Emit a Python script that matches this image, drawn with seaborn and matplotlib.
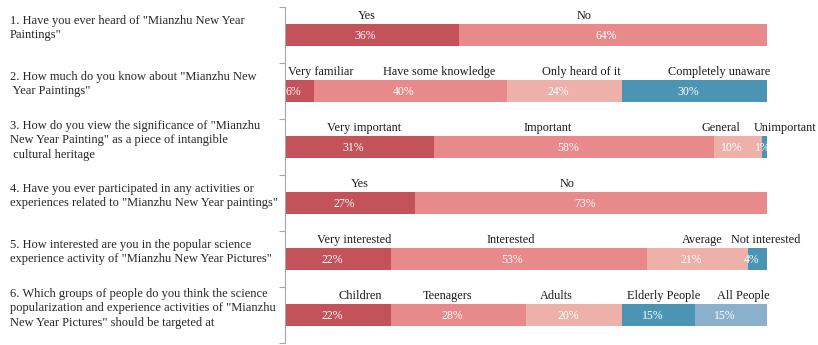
import matplotlib
matplotlib.use("Agg")
import matplotlib.pyplot as plt
import matplotlib.transforms as mtransforms
import numpy as np
import pandas as pd
import seaborn as sns

questions = [
    '1. Have you ever heard of "Mianzhu New Year\nPaintings"',
    '2. How much do you know about "Mianzhu New\n Year Paintings"',
    '3. How do you view the significance of "Mianzhu\nNew Year Painting" as a piece of intangible\n cultural heritage',
    '4. Have you ever participated in any activities or\nexperiences related to "Mianzhu New Year paintings"',
    '5. How interested are you in the popular science\nexperience activity of "Mianzhu New Year Pictures"',
    '6. Which groups of people do you think the science\npopularization and experience activities of "Mianzhu\nNew Year Pictures" should be targeted at',
]
options = [
    ["Yes", "No"],
    ["Very familiar", "Have some knowledge", "Only heard of it", "Completely unaware"],
    ["Very important", "Important", "General", "Unimportant"],
    ["Yes", "No"],
    ["Very interested", "Interested", "Average", "Not interested"],
    ["Children", "Teenagers", "Adults", "Elderly People", "All People"],
]
percents = [
    [36, 64],
    [6, 40, 24, 30],
    [31, 58, 10, 1],
    [27, 73],
    [22, 53, 21, 4],
    [22, 28, 20, 15, 15],
]

# colour by position of the answer within the question
seg_colors = ["#C4525A", "#E88A8C", "#EDB1AA", "#4B94B3", "#8BB0CB"]
# horizontal shifts (in %) of the option labels, as placed in the original
label_nudge = {
    (0, 0): -1, (0, 1): -6,
    (1, 0): 4.5, (1, 1): 6, (1, 2): 3.5, (1, 3): 5,
    (2, 0): 1, (2, 1): -5.5, (2, 2): -3.5, (2, 3): 4.3,
    (3, 0): 2, (3, 1): -5,
    (4, 0): 3.3, (4, 1): -1.7, (4, 2): 1.1, (4, 3): 1.8,
    (5, 0): 4.7, (5, 1): -2.3, (5, 2): -3.7, (5, 3): 1, (5, 4): 2.5,
}

rows = []
for qi, (opts, vals) in enumerate(zip(options, percents)):
    cum = 0
    for k, (o, v) in enumerate(zip(opts, vals)):
        rows.append({"q": qi, "seg": k, "option": o, "pct": v,
                     "start": cum, "end": cum + v})
        cum += v
df = pd.DataFrame(rows)

plt.rcParams["font.family"] = ["Liberation Serif", "DejaVu Serif"]

fig, ax = plt.subplots(figsize=(8.18, 3.45), dpi=100)
fig.subplots_adjust(left=285 / 818, right=767 / 818, top=1 - 7 / 345, bottom=1 - 343 / 345)

order = list(range(len(questions)))
# draw cumulative ends, highest segment index first so earlier ones overlay
for k in sorted(df["seg"].unique(), reverse=True):
    sub = df[df["seg"] == k]
    sns.barplot(data=sub, x="end", y="q", order=order, orient="h",
                color=seg_colors[k], saturation=1, width=0.4, ax=ax,
                linewidth=0)

for _, r in df.iterrows():
    mid = (r["start"] + r["end"]) / 2
    # percent labels sit a touch left of the segment centre in the original
    shift = min(1.3, 0.3 * r["pct"])
    ax.text(mid - shift, r["q"] + 0.01, f"{r['pct']}%", ha="center", va="center",
            color="white", fontsize=8.5)
    ax.text(mid + label_nudge.get((r["q"], r["seg"]), 0), r["q"] - 0.24,
            r["option"], ha="center", va="bottom", color="#1a1a1a", fontsize=8.8)

trans = mtransforms.blended_transform_factory(fig.transFigure, ax.transData)
for qi, qtext in enumerate(questions):
    ax.text(10 / 818, qi - 0.12, qtext, transform=trans, ha="left", va="center",
            fontsize=9, linespacing=1.25, color="#262626")

ax.set_xlim(0, 100)
ax.set_ylim(len(questions) - 0.5, -0.5)
ax.set_yticks(np.arange(-0.5, len(questions), 1))
ax.set_yticklabels([])
ax.set_xticks([])
ax.set_xlabel("")
ax.set_ylabel("")
for s in ["top", "right", "bottom"]:
    ax.spines[s].set_visible(False)
ax.spines["left"].set_color("#a6a6a6")
ax.spines["left"].set_linewidth(0.8)
ax.tick_params(axis="y", length=4, color="#a6a6a6", width=0.8)

fig.savefig("out.png", dpi=100)
